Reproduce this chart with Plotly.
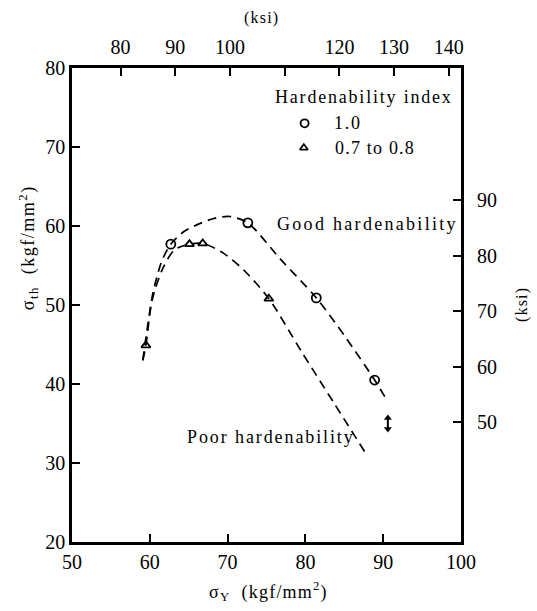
import plotly.graph_objects as go

# Threshold stress vs. yield strength (kgf/mm^2), with ksi on the secondary axes
KSI_PER_KGF = 1.42233

# Measured points
circle_x = [62.7, 72.6, 81.4, 88.9]          # hardenability index 1.0
circle_y = [57.7, 60.4, 50.9, 40.5]
tri_x = [59.5, 65.1, 66.8, 75.3]             # hardenability index 0.7 to 0.8
tri_y = [44.9, 57.7, 57.8, 50.8]

# Trend curves
good_x = [59.1, 60.3, 60.9, 61.6, 62.7, 64.4, 66.4, 68.4, 70.3, 72.6, 76.7, 81.4, 85.1, 88.9, 90.2]
good_y = [43.0, 51.0, 53.5, 55.7, 57.7, 59.3, 60.3, 61.0, 61.2, 60.4, 55.9, 50.9, 46.0, 40.5, 38.4]
poor_x = [59.1, 59.5, 60.3, 61.7, 63.2, 65.1, 66.8, 69.4, 72.0, 75.3, 79.5, 83.6, 87.9]
poor_y = [43.0, 44.9, 50.6, 54.7, 57.0, 57.7, 57.8, 56.6, 54.5, 50.8, 44.1, 37.7, 31.0]

# Scatter band marker
band_x = [90.6, 90.6]
band_y = [34.3, 35.7]

x_ticks = [50, 60, 70, 80, 90, 100]
y_ticks = [20, 30, 40, 50, 60, 70, 80]
ksi_x_ticks = [80, 90, 100, 110, 120, 130, 140]
ksi_x_text = ["80", "90", "100", "", "120", "130", "140"]
ksi_y_ticks = [50, 60, 70, 80, 90]

FONT = "Liberation Serif"

fig = go.Figure()

curve_line = dict(color="black", width=1.7, dash="9px,6px", shape="spline", smoothing=0.8)
fig.add_trace(go.Scatter(x=good_x, y=good_y, mode="lines", line=curve_line, showlegend=False, hoverinfo="skip"))
fig.add_trace(go.Scatter(x=poor_x, y=poor_y, mode="lines", line=curve_line, showlegend=False, hoverinfo="skip"))

fig.add_trace(go.Scatter(x=circle_x, y=circle_y, mode="markers",
                         marker=dict(symbol="circle-open", size=9, color="black", line=dict(width=1.8)),
                         showlegend=False))
fig.add_trace(go.Scatter(x=tri_x, y=tri_y, mode="markers",
                         marker=dict(symbol="triangle-up-open", size=8, color="black", line=dict(width=1.8)),
                         showlegend=False))

# Double-headed arrow showing the scatter band
fig.add_trace(go.Scatter(x=band_x, y=band_y, mode="lines+markers",
                         line=dict(color="black", width=2),
                         marker=dict(symbol=["triangle-down", "triangle-up"], size=7, color="black"),
                         showlegend=False, hoverinfo="skip"))

# Key markers
fig.add_trace(go.Scatter(x=[79.9], y=[73.0], mode="markers",
                         marker=dict(symbol="circle-open", size=8, color="black", line=dict(width=1.8)),
                         showlegend=False))
fig.add_trace(go.Scatter(x=[79.8], y=[69.9], mode="markers",
                         marker=dict(symbol="triangle-up-open", size=7, color="black", line=dict(width=1.8)),
                         showlegend=False))

# Invisible trace that anchors the ksi axes
fig.add_trace(go.Scatter(x=[60 * KSI_PER_KGF], y=[40 * KSI_PER_KGF], xaxis="x2", yaxis="y2",
                         mode="markers", marker=dict(opacity=0), showlegend=False, hoverinfo="skip"))

tick_font = dict(family=FONT, size=20, color="black")
axis_common = dict(showgrid=False, zeroline=False, ticks="inside", ticklen=8, tickwidth=1.6,
                   tickcolor="black", tickfont=tick_font)

fig.update_layout(
    width=537, height=611,
    margin=dict(l=72, r=76, t=68, b=69),
    plot_bgcolor="white", paper_bgcolor="white",
    xaxis=dict(range=[50, 100], tickvals=x_ticks, showline=True, linewidth=2.6, linecolor="black",
               mirror=True, ticklabelstandoff=0, **axis_common),
    yaxis=dict(range=[20, 80], tickvals=y_ticks, showline=True, linewidth=2.6, linecolor="black",
               mirror=True, ticklabelstandoff=0, **axis_common),
    xaxis2=dict(range=[50 * KSI_PER_KGF, 100 * KSI_PER_KGF], overlaying="x", side="top", anchor="y",
                tickvals=ksi_x_ticks, ticktext=ksi_x_text, showline=False, ticklabelstandoff=9,
                **axis_common),
    yaxis2=dict(range=[20 * KSI_PER_KGF, 80 * KSI_PER_KGF], overlaying="y", side="right", anchor="x",
                tickvals=ksi_y_ticks, showline=False, ticklabelstandoff=15, **axis_common),
)


def note(text, x, y, size=18, spacing=1.8, xref="x", yref="y", **kw):
    fig.add_annotation(text=f'<span style="letter-spacing:{spacing}px">{text}</span>', x=x, y=y,
                       xref=xref, yref=yref, showarrow=False,
                       font=dict(family=FONT, size=size, color="black"), **kw)


note("Hardenability index", 0.985, 0.939, xref="paper", yref="paper", xanchor="right", yanchor="middle")
note("1.0", 85.5, 73.0, xanchor="center", yanchor="middle")
note("0.7 to 0.8", 83.5, 69.9, spacing=1.2, xanchor="left", yanchor="middle")
note("Good hardenability", 76.1, 60.25, spacing=2.3, xanchor="left", yanchor="middle")
note("Poor hardenability", 64.5, 33.3, spacing=1.9, xanchor="left", yanchor="middle")

note("(ksi)", 0.488, 1.105, size=16, spacing=1.2, xref="paper", yref="paper",
     xanchor="center", yanchor="middle")
note("(ksi)", 1.157, 0.5, size=16, spacing=1.2, xref="paper", yref="paper",
     xanchor="center", yanchor="middle", textangle=-90)
note("σ<sub>th</sub>  (kgf/mm<sup>2</sup>)", -0.113, 0.62, size=18, spacing=1.5, xref="paper", yref="paper",
     xanchor="center", yanchor="middle", textangle=-90)
note("σ<sub>Y</sub>  (kgf/mm<sup>2</sup>)", 0.505, -0.105, size=18, spacing=1.2, xref="paper", yref="paper",
     xanchor="center", yanchor="middle")

fig.write_html("out.html")
